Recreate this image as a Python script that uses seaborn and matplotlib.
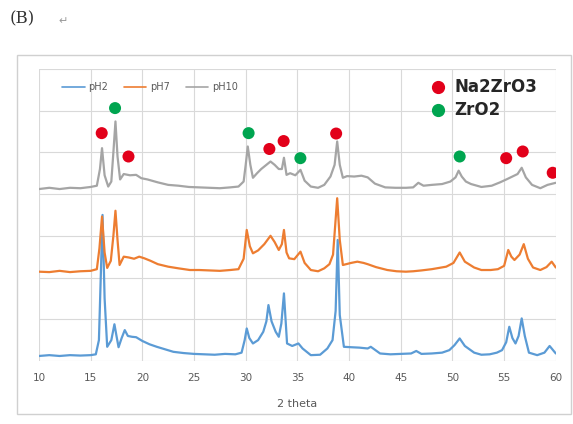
import numpy as np
import pandas as pd
import matplotlib
matplotlib.use('Agg')
import matplotlib.pyplot as plt
import seaborn as sns
from matplotlib.lines import Line2D
from matplotlib.patches import Rectangle
#----------------------------------------------------------------------------------------------------------------
# XRD patterns (2 theta, offset intensity)
ph10_x = [10, 11, 12, 13, 14, 15, 15.6, 15.9, 16.1, 16.35,
          16.7, 17.0, 17.2, 17.4, 17.6, 17.85, 18.2, 18.8, 19.4, 19.9,
          20.5, 21.5, 22.5, 23.5, 24.5, 25.5, 26.5, 27.5, 28.5, 29.3,
          29.8, 30.0, 30.2, 30.45, 30.7, 31.1, 31.5, 32.0, 32.4, 32.8,
          33.2, 33.5, 33.7, 33.95, 34.3, 34.8, 35.3, 35.7, 36.3, 37.0,
          37.6, 38.2, 38.6, 38.85, 39.1, 39.4, 39.8, 40.5, 41.2, 41.8,
          42.5, 43.5, 44.5, 45.5, 46.2, 46.7, 47.2, 48.0, 49.0, 49.8,
          50.3, 50.6, 50.9, 51.3, 51.8, 52.8, 53.8, 54.6, 55.3, 55.8,
          56.3, 56.7, 57.1, 57.7, 58.5, 59.2, 60]
ph10_y = [4.12, 4.15, 4.12, 4.15, 4.14, 4.17, 4.2, 4.6, 5.1, 4.45,
          4.18, 4.3, 5.0, 5.74, 4.9, 4.35, 4.48, 4.45, 4.46, 4.38,
          4.35, 4.28, 4.22, 4.2, 4.17, 4.16, 4.15, 4.14, 4.16, 4.18,
          4.3, 4.7, 5.14, 4.7, 4.39, 4.5, 4.6, 4.7, 4.78, 4.7,
          4.6, 4.6, 4.87, 4.46, 4.5, 4.45, 4.58, 4.32, 4.18, 4.15,
          4.22, 4.42, 4.7, 5.26, 4.7, 4.39, 4.43, 4.42, 4.44, 4.4,
          4.25, 4.16, 4.15, 4.15, 4.16, 4.27, 4.2, 4.22, 4.24, 4.3,
          4.4, 4.56, 4.42, 4.3, 4.24, 4.17, 4.2, 4.28, 4.36, 4.42,
          4.48, 4.63, 4.4, 4.22, 4.14, 4.22, 4.27]

ph7_x = [10, 11, 12, 13, 14, 15, 15.6, 15.85, 16.1, 16.35,
         16.6, 16.95, 17.2, 17.4, 17.6, 17.8, 18.2, 18.7, 19.2, 19.7,
         20.2, 20.8, 21.5, 22.5, 23.5, 24.6, 25.5, 26.5, 27.5, 28.5,
         29.3, 29.8, 30.1, 30.4, 30.7, 31.2, 31.8, 32.4, 32.8, 33.2,
         33.5, 33.7, 33.95, 34.2, 34.7, 35.3, 35.7, 36.3, 37.0, 37.6,
         38.1, 38.45, 38.85, 39.1, 39.4, 40.2, 40.8, 41.4, 41.8, 42.6,
         43.7, 44.6, 45.5, 46.2, 47.0, 48.0, 49.4, 50.1, 50.7, 51.2,
         52.1, 52.8, 53.7, 54.4, 55.0, 55.4, 55.7, 56.0, 56.5, 56.9,
         57.3, 57.8, 58.5, 59.1, 59.6, 60]
ph7_y = [2.14, 2.13, 2.16, 2.13, 2.15, 2.16, 2.2, 2.7, 3.46, 2.6,
         2.23, 2.4, 3.0, 3.6, 2.9, 2.3, 2.5, 2.48, 2.45, 2.5,
         2.46, 2.4, 2.32, 2.26, 2.22, 2.18, 2.18, 2.17, 2.16, 2.18,
         2.2, 2.45, 3.14, 2.75, 2.58, 2.65, 2.8, 3.0, 2.85, 2.66,
         2.8, 3.14, 2.6, 2.46, 2.44, 2.62, 2.35, 2.18, 2.15, 2.22,
         2.32, 2.55, 3.9, 2.9, 2.3, 2.35, 2.38, 2.35, 2.32, 2.25,
         2.18, 2.15, 2.14, 2.15, 2.17, 2.2, 2.26, 2.35, 2.6, 2.38,
         2.24, 2.18, 2.18, 2.2, 2.28, 2.66, 2.5, 2.42, 2.55, 2.8,
         2.45, 2.24, 2.18, 2.25, 2.38, 2.24]

ph2_x = [10, 11, 12, 13, 14, 15, 15.5, 15.8, 16.0, 16.15,
         16.35, 16.6, 17.0, 17.3, 17.5, 17.7, 18.0, 18.3, 18.6, 19.0,
         19.4, 20.0, 20.7, 21.4, 22.2, 23.0, 24.0, 25.0, 26.0, 27.0,
         28.0, 29.0, 29.6, 29.9, 30.1, 30.35, 30.7, 31.2, 31.7, 32.0,
         32.2, 32.5, 32.9, 33.2, 33.45, 33.7, 34.0, 34.5, 35.1, 35.5,
         36.3, 37.2, 37.9, 38.4, 38.7, 38.9, 39.1, 39.5, 40.2, 41.0,
         41.8, 42.1, 43.0, 44.0, 45.0, 46.0, 46.5, 47.0, 48.0, 49.0,
         49.7, 50.2, 50.7, 51.2, 52.1, 52.8, 53.6, 54.3, 54.8, 55.2,
         55.5, 55.8, 56.1, 56.4, 56.7, 57.0, 57.4, 58.2, 58.9, 59.4,
         60]
ph2_y = [0.12, 0.14, 0.12, 0.14, 0.13, 0.14, 0.16, 0.5, 2.2, 3.5,
         1.5, 0.34, 0.5, 0.88, 0.6, 0.33, 0.55, 0.74, 0.6, 0.58,
         0.57, 0.48, 0.4, 0.34, 0.28, 0.22, 0.19, 0.17, 0.16, 0.15,
         0.17, 0.16, 0.2, 0.5, 0.78, 0.55, 0.42, 0.5, 0.7, 0.95,
         1.34, 0.95, 0.7, 0.58, 0.9, 1.62, 0.42, 0.36, 0.42, 0.3,
         0.14, 0.15, 0.3, 0.5, 1.2, 2.9, 1.1, 0.34, 0.33, 0.32,
         0.3, 0.34, 0.18, 0.16, 0.17, 0.18, 0.24, 0.17, 0.18, 0.2,
         0.26, 0.38, 0.54, 0.36, 0.2, 0.15, 0.16, 0.2, 0.26, 0.45,
         0.82, 0.55, 0.42, 0.6, 1.02, 0.6, 0.2, 0.14, 0.2, 0.36,
         0.18]

# phase markers above the pH10 pattern
na_x = [16.07, 18.66, 32.29, 33.67, 38.75, 55.2, 56.8, 59.7]
na_y = [5.46, 4.9, 5.08, 5.27, 5.45, 4.86, 5.02, 4.51]
zr_x = [17.36, 30.28, 35.29, 50.7]
zr_y = [6.06, 5.46, 4.86, 4.9]
#----------------------------------------------------------------------------------------------------------------
df = pd.concat([
    pd.DataFrame({'2 theta': ph2_x, 'I': ph2_y, 'sample': 'pH2'}),
    pd.DataFrame({'2 theta': ph7_x, 'I': ph7_y, 'sample': 'pH7'}),
    pd.DataFrame({'2 theta': ph10_x, 'I': ph10_y, 'sample': 'pH10'}),
])
colors = {'pH2': '#5b9bd5', 'pH7': '#ed7d31', 'pH10': '#a5a5a5'}
RED = '#e2001a'
GREEN = '#00a550'
#----------------------------------------------------------------------------------------------------------------
sns.set_style('white')
fig = plt.figure(figsize=(5.73, 4.24), dpi=100)
ax = fig.add_axes([0.068, 0.1486, 0.902, 0.689])

sns.lineplot(data=df, x='2 theta', y='I', hue='sample', palette=colors,
             linewidth=1.6, sort=False, estimator=None, ax=ax, legend=False)
sns.scatterplot(x=na_x, y=na_y, color=RED, s=75, edgecolor='none', ax=ax, zorder=5)
sns.scatterplot(x=zr_x, y=zr_y, color=GREEN, s=75, edgecolor='none', ax=ax, zorder=5)

ax.set_xlim(10, 60)
ax.set_ylim(0, 7)
ax.set_xticks(range(10, 61, 5))
ax.set_yticks(range(0, 8))
ax.set_yticklabels([])
ax.grid(True, color='#d9d9d9', linewidth=0.8)
ax.set_axisbelow(True)
for s in ax.spines.values():
    s.set_visible(False)
ax.tick_params(axis='both', length=0, pad=9, labelsize=7.5, labelcolor='#595959')
ax.set_xlabel('2 theta', fontsize=8, color='#595959', labelpad=11)
ax.set_ylabel('')

line_handles = [Line2D([], [], color=colors[k], linewidth=1.2) for k in ['pH2', 'pH7', 'pH10']]
leg1 = ax.legend(line_handles, ['pH2', 'pH7', 'pH10'], ncol=3, frameon=False,
                 loc='center left', bbox_to_anchor=(0.028, 0.938), fontsize=7,
                 handlelength=2.3, handletextpad=0.4, columnspacing=1.6, labelcolor='#595959')
ax.add_artist(leg1)

dot_handles = [Line2D([], [], color=RED, marker='o', linestyle='none', markersize=8.5),
               Line2D([], [], color=GREEN, marker='o', linestyle='none', markersize=8.5)]
leg2 = ax.legend(dot_handles, ['Na2ZrO3', 'ZrO2'], frameon=False, loc='upper left',
                 bbox_to_anchor=(0.727, 0.99), prop={'size': 12, 'weight': 'bold'},
                 handletextpad=0.0, labelspacing=0.3, borderaxespad=0)
for t in leg2.get_texts():
    t.set_color('#262626')

fig.patches.append(Rectangle((17 / 573, 1 - 414 / 424), 554 / 573, 359 / 424,
                             transform=fig.transFigure, fill=False,
                             edgecolor='#d0d0d0', linewidth=1.0))
fig.text(10 / 573, 1 - 19 / 424, '(B)', fontsize=12, family='DejaVu Serif',
         va='center', ha='left', color='#333333')
fig.text(58 / 573, 1 - 21 / 424, '\u21b5', fontsize=8, family='DejaVu Sans',
         va='center', ha='left', color='#999999')

plt.savefig('out.png', dpi=100)
plt.close()
